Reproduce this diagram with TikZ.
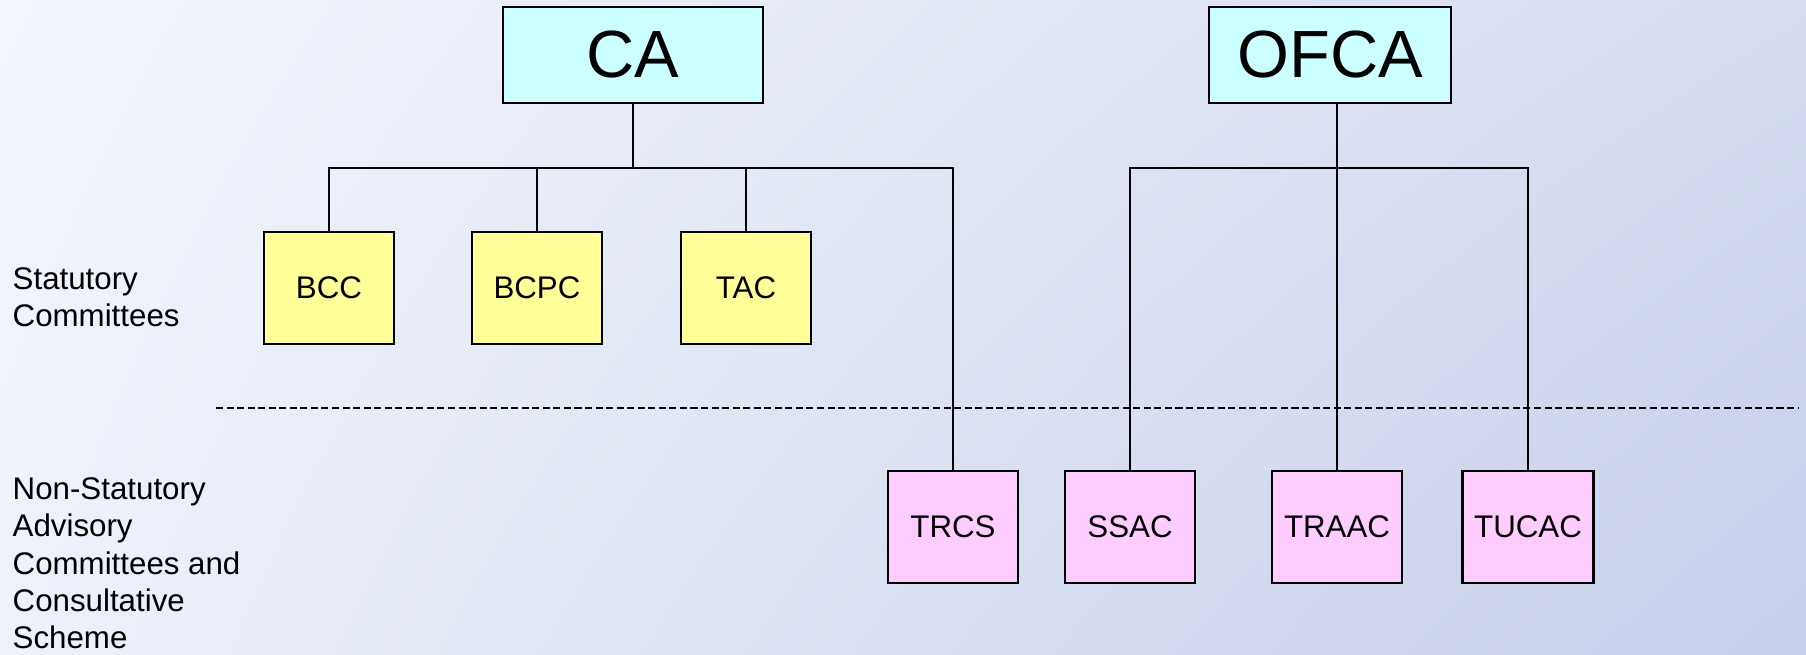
\documentclass[tikz,border=0pt]{standalone}
\usepackage{fontspec}
\setmainfont{Liberation Sans}
\usetikzlibrary{shadings}
\definecolor{bgtl}{HTML}{F2F5FC}
\definecolor{bgtr}{HTML}{D6DDF0}
\definecolor{bgbl}{HTML}{EDF1FA}
\definecolor{bgbr}{HTML}{C6CEE9}
\definecolor{cacyan}{HTML}{CCFFFF}
\definecolor{statyellow}{HTML}{FFFF99}
\definecolor{advpink}{HTML}{FFCCFF}
\begin{document}
\begin{tikzpicture}[
    topbox/.style={rectangle,draw,line width=0.8pt,fill=cacyan,minimum width=2.6cm,minimum height=0.96cm,font=\fontsize{19}{22}\selectfont},
    statbox/.style={rectangle,draw,line width=0.8pt,fill=statyellow,minimum width=1.3cm,minimum height=1.12cm,font=\fontsize{8.9}{10.7}\selectfont},
    advbox/.style={statbox,fill=advpink},
    link/.style={line width=0.75pt},
    divider/.style={line width=0.6pt,dash pattern=on 2pt off 1pt},
    sidelabel/.style={align=left,anchor=north west,inner sep=0pt,font=\fontsize{8.9}{10.6}\selectfont}]
      \useasboundingbox (0,0) rectangle (18.06,6.54);
      \shade[upper left=bgtl,upper right=bgtr,lower left=bgbl,lower right=bgbr] (0,0) rectangle (18.06,6.54);
      \node[topbox] (ca) at (6.33,5.99) {CA};
      \node[topbox,minimum width=2.42cm] (ofca) at (13.30,5.99) {OFCA};
      \node[statbox] (bcc) at (3.29,3.66) {BCC};
      \node[statbox] (bcpc) at (5.37,3.66) {BCPC};
      \node[statbox] (tac) at (7.46,3.66) {TAC};
      \node[advbox] (trcs) at (9.53,1.27) {TRCS};
      \node[advbox] (ssac) at (11.30,1.27) {SSAC};
      \node[advbox] (traac) at (13.37,1.27) {TRAAC};
      \node[advbox] (tucac) at (15.28,1.27) {TUCAC};
      \node[sidelabel] (statlabel) at (0.12,3.87) {Statutory\\Committees};
      \node[sidelabel] (advlabel) at (0.12,1.77) {Non-Statutory\\Advisory\\Committees and\\Consultative\\Scheme};
      \coordinate (cabus) at (6.33,4.86);
      \coordinate (ofcabus) at (13.37,4.86);
      \coordinate (divl) at (2.16,2.46);
      \coordinate (divr) at (17.98,2.46);
      \draw[link] (ca.south) -- (cabus);
      \draw[link] (bcc.north) -- (bcc.north |- cabus) -- (trcs.north |- cabus) -- (trcs.north);
      \draw[link] (bcpc.north) -- (bcpc.north |- cabus);
      \draw[link] (tac.north) -- (tac.north |- cabus);
      \draw[link] (traac.north |- ofca.south) -- (traac.north);
      \draw[link] (ssac.north) -- (ssac.north |- ofcabus) -- (tucac.north |- ofcabus) -- (tucac.north);
      \draw[divider] (divl) -- (divr);
    \end{tikzpicture}
\end{document}
